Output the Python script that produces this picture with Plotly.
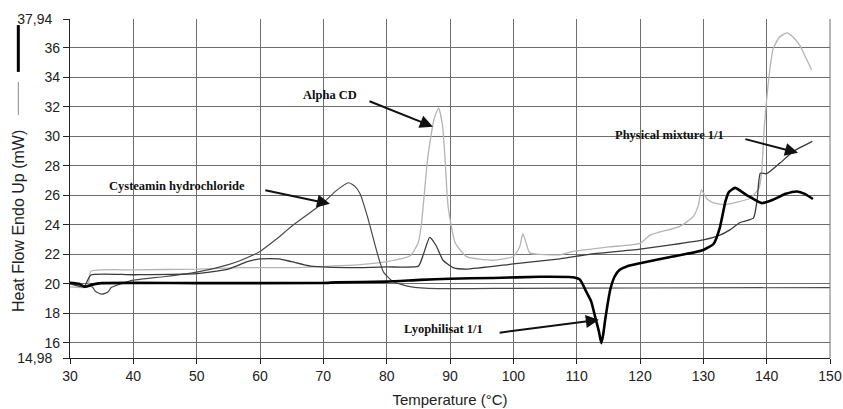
import plotly.graph_objects as go

# ---- data (Temperature °C, Heat flow mW) ----
alpha_x = [30, 32.8, 33.3, 40, 50, 57, 65, 75.8, 80, 83.7, 85, 85.5, 86.5, 87.5, 88.2, 88.8, 89.2, 89.7,
           90.8, 92.6, 96.8, 100, 101, 101.5, 102, 102.6, 107.4, 109.4, 115, 120, 121.6, 126.3, 128.4,
           129.2, 129.7, 130.5, 131.5, 133.2, 135, 137.4, 138.8, 139.2, 139.6, 140.0, 140.5, 141, 142,
           143.2, 144.2, 145.3, 146.2, 147.1]
alpha_y = [19.8, 19.8, 20.85, 20.95, 21.0, 21.1, 21.1, 21.3, 21.5, 21.9, 22.8, 24.1, 28.6, 31.2, 31.9,
           30.8, 28.6, 25.25, 22.8, 21.85, 21.6, 21.85, 22.5, 23.4, 22.8, 22.1, 21.97, 22.2, 22.5, 22.75,
           23.3, 23.9, 24.56, 25.3, 26.37, 25.8, 25.5, 25.36, 25.5, 25.8, 26.5, 27.5, 30.5, 32.5, 34.5,
           35.9, 36.7, 37.0, 36.7, 36.1, 35.3, 34.5]

cyst_x = [30, 32.3, 33.5, 34, 35, 36, 36.5, 38, 40, 45, 50, 55, 57, 60, 62.5, 65, 67.5, 70, 72, 74,
          75, 75.8, 77, 78.5, 79.5, 81, 83.7, 88, 100, 120, 150]
cyst_y = [20.0, 19.85, 19.8, 19.5, 19.3, 19.45, 19.75, 20.0, 20.25, 20.5, 20.8, 21.3, 21.6, 22.2, 23.0,
          23.9, 24.7, 25.5, 26.3, 26.85, 26.6, 26.1, 24.5, 22.1, 20.8, 20.16, 19.82, 19.68, 19.7, 19.72,
          19.75]

phys_x = [30, 32.2, 33.3, 40, 50, 55, 58, 60, 63, 65, 68, 75, 80, 85, 85.8, 86.8, 87.8, 88.9, 90.5,
          92.6, 100, 107.4, 112, 120, 130, 132.6, 134.2, 135.8, 137.9, 138.5, 139, 140, 142.1, 144.2,
          147.2]
phys_y = [20.0, 19.8, 20.6, 20.62, 20.7, 21.0, 21.5, 21.7, 21.7, 21.5, 21.2, 21.1, 21.15, 21.2, 22.0,
          23.15, 22.6, 21.6, 21.1, 21.0, 21.35, 21.7, 22.0, 22.35, 22.98, 23.3, 23.66, 24.16, 24.45,
          25.7, 27.5, 27.46, 28.18, 28.97, 29.65]

lyo_x = [30, 31.5, 32.3, 33.5, 35, 50, 70, 72, 80, 85.3, 90, 96.8, 104.2, 109.4, 110.5, 111.6, 112.3,
         112.9, 113.5, 113.9, 114.2, 114.5, 115.3, 116, 116.8, 118, 120, 125.2, 130, 131.6, 132.6,
         133.5, 134, 135, 136.9, 139.2, 141, 143, 144.8, 146, 147.3]
lyo_y = [20.08, 20.0, 19.8, 19.95, 20.05, 20.05, 20.06, 20.1, 20.15, 20.27, 20.35, 20.4, 20.48, 20.45,
         20.3, 19.4, 18.8, 17.8, 16.8, 15.98, 16.6, 17.56, 19.6, 20.5, 20.95, 21.2, 21.4, 21.85, 22.3,
         22.7, 23.8, 25.6, 26.2, 26.5, 26.0, 25.47, 25.7, 26.1, 26.26, 26.1, 25.75]

x_ticks = [30, 40, 50, 60, 70, 80, 90, 100, 110, 120, 130, 140, 150]
y_ticks = [14.98, 16, 18, 20, 22, 24, 26, 28, 30, 32, 34, 36, 37.94]
y_tick_text = ["14,98\u00a0\u00a0", "16", "18", "20", "22", "24", "26", "28", "30", "32", "34", "36",
               "37,94\u00a0\u00a0"]

labels = ["Cysteamin hydrochloride", "Alpha CD", "Physical mixture 1/1", "Lyophilisat 1/1"]
label_pos = [(46.9, 26.65), (71.0, 32.81), (124.6, 30.1), (88.9, 16.96)]
arrow_tail = [(60.6, 26.37), (77.05, 32.41), (136.4, 29.83), (97.6, 16.68)]
arrow_head = [(71.05, 25.42), (87.3, 30.65), (144.95, 28.88), (113.5, 17.57)]

fig = go.Figure()
sm = dict(shape="spline", smoothing=0.5)
fig.add_trace(go.Scatter(x=alpha_x, y=alpha_y, mode="lines", line=dict(color="#b4b4b4", width=1.3, **sm)))
fig.add_trace(go.Scatter(x=cyst_x, y=cyst_y, mode="lines", line=dict(color="#4a4a4a", width=1.2, **sm)))
fig.add_trace(go.Scatter(x=phys_x, y=phys_y, mode="lines", line=dict(color="#3a3a3a", width=1.3, **sm)))
fig.add_trace(go.Scatter(x=lyo_x, y=lyo_y, mode="lines", line=dict(color="#000000", width=2.6, **sm)))

anns = []
for t, (lx, ly) in zip(labels, label_pos):
    anns.append(dict(x=lx, y=ly, xref="x", yref="y", text="<b>" + t + "</b>", showarrow=False,
                     font=dict(family="Liberation Serif", size=12.5, color="#111")))
for (tx, ty), (hx, hy) in zip(arrow_tail, arrow_head):
    anns.append(dict(x=hx, y=hy, xref="x", yref="y", ax=tx, ay=ty, axref="x", ayref="y", text="",
                     showarrow=True, arrowhead=2, arrowsize=1.3, arrowwidth=2, arrowcolor="#111"))
anns.append(dict(x=-0.068, y=0.405, xref="paper", yref="paper", xanchor="center", yanchor="middle",
                 text="Heat Flow Endo Up (mW)", textangle=-90, showarrow=False,
                 font=dict(family="Liberation Sans", size=16, color="#222")))

fig.update_layout(
    width=843, height=409,
    margin=dict(l=70, r=13, t=19, b=51, autoexpand=False),
    paper_bgcolor="white", plot_bgcolor="white",
    showlegend=False,
    annotations=anns,
    shapes=[
        dict(type="line", xref="paper", yref="paper", x0=-0.068, x1=-0.068, y0=0.982, y1=0.844,
             line=dict(color="black", width=3)),
        dict(type="line", xref="paper", yref="paper", x0=-0.068, x1=-0.068, y0=0.814, y1=0.717,
             line=dict(color="#888", width=1)),
    ],
    font=dict(family="Liberation Sans", color="#222"),
)
fig.update_xaxes(range=[30, 150], tickvals=x_ticks, showgrid=True, gridcolor="#6e6e6e", gridwidth=1,
                 showline=True, linecolor="#222", linewidth=1.2, mirror=False, ticks="outside", ticklen=5,
                 tickcolor="#222", tickfont=dict(size=14), zeroline=False, automargin=False,
                 title=dict(text="Temperature (°C)", font=dict(size=15), standoff=11))
fig.update_yaxes(range=[14.98, 37.94], tickvals=y_ticks, ticktext=y_tick_text, showgrid=True,
                 gridcolor="#6e6e6e", gridwidth=1, showline=True, linecolor="#222", linewidth=1.2,
                 ticks="outside", ticklen=6, tickcolor="#222", tickfont=dict(size=14), zeroline=False,
                 automargin=False)
# right border
fig.add_shape(type="line", xref="paper", yref="paper", x0=1, x1=1, y0=0, y1=1, line=dict(color="#6e6e6e", width=1))

fig.write_html("out.html", config={"displayModeBar": False},
               post_script="document.body.style.margin='0';document.body.style.overflow='hidden';")
